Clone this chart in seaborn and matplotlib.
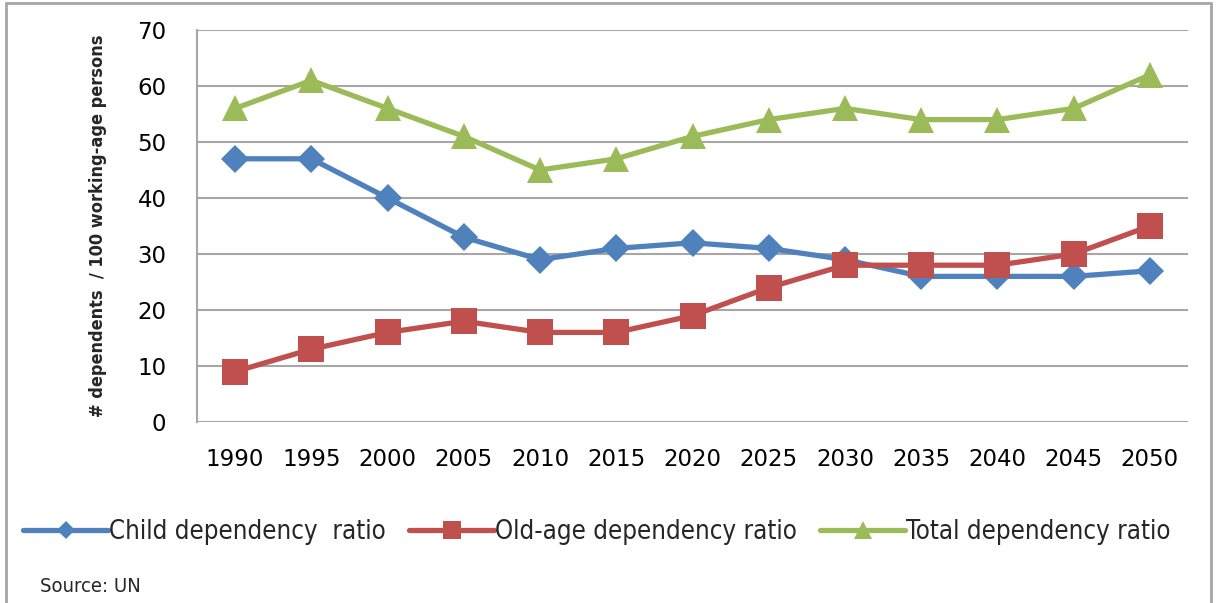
import numpy as np
import matplotlib.pyplot as plt
import pandas as pd
import seaborn as sns
from matplotlib.patches import Rectangle

sns.set_style("white")
plt.rcParams['font.family'] = ['DejaVu Sans']

years = ['1990', '1995', '2000', '2005', '2010', '2015', '2020',
         '2025', '2030', '2035', '2040', '2045', '2050']
child = [47, 47, 40, 33, 29, 31, 32, 31, 29, 26, 26, 26, 27]
old_age = [9, 13, 16, 18, 16, 16, 19, 24, 28, 28, 28, 30, 35]
total = [56, 61, 56, 51, 45, 47, 51, 54, 56, 54, 54, 56, 62]

series_names = ['Child dependency  ratio', 'Old-age dependency ratio', 'Total dependency ratio']
colors = ['#4F81BD', '#C0504D', '#9BBB59']
markers = ['D', 's', '^']
msizes = [14, 19, 19]

pos = np.arange(len(years))
df = pd.DataFrame({
    'pos': np.tile(pos, 3),
    'value': child + old_age + total,
    'series': np.repeat(series_names, len(years)),
})

fig = plt.figure(figsize=(12.18, 6.03), dpi=100)
ax = fig.add_axes([197 / 1218, 1 - 422 / 603, 991 / 1218, 392 / 603])

for name, c, m, ms in zip(series_names, colors, markers, msizes):
    sub = df[df['series'] == name]
    sns.lineplot(data=sub, x='pos', y='value', ax=ax, color=c, lw=3.8,
                 marker=m, markersize=ms, markeredgewidth=0, label=name)

ax.set_xlim(-0.5, len(years) - 0.5)
ax.set_ylim(0, 70)
ax.set_yticks(range(0, 71, 10))
ax.set_xticks(pos)
ax.set_xticklabels(years)
ax.tick_params(axis='both', labelsize=16.5, length=0, colors='black')
ax.tick_params(axis='x', pad=19)
ax.tick_params(axis='y', pad=22)
ax.grid(True, axis='y', color='#A6A6A6', lw=1.5)
ax.set_axisbelow(True)
for s in ['top', 'right', 'bottom']:
    ax.spines[s].set_visible(False)
ax.spines['left'].set_color('#A6A6A6')
ax.spines['left'].set_linewidth(1.5)
ax.set_xlabel('')
ax.set_ylabel('# dependents  / 100 working-age persons', fontsize=13, fontweight='bold',
              fontstretch='condensed', labelpad=22)

leg = ax.legend(loc='center', bbox_to_anchor=(597 / 1218, 1 - 532 / 603),
                bbox_transform=fig.transFigure, ncol=3, frameon=False,
                handlelength=3.3, handletextpad=0.05, columnspacing=0.9, markerscale=0.65,
                prop={'stretch': 'condensed', 'size': 18.5})

fig.text(40 / 1218, 1 - 587 / 603, 'Source: UN', fontsize=14.5, va='center',
         fontstretch='condensed')

fig.patches.append(Rectangle((6 / 1218, -0.01), 1205 / 1218, 1 - 3 / 603 + 0.01,
                             transform=fig.transFigure, fill=False,
                             edgecolor='#A6A6A6', lw=2))

fig.savefig('out.png', dpi=100)
